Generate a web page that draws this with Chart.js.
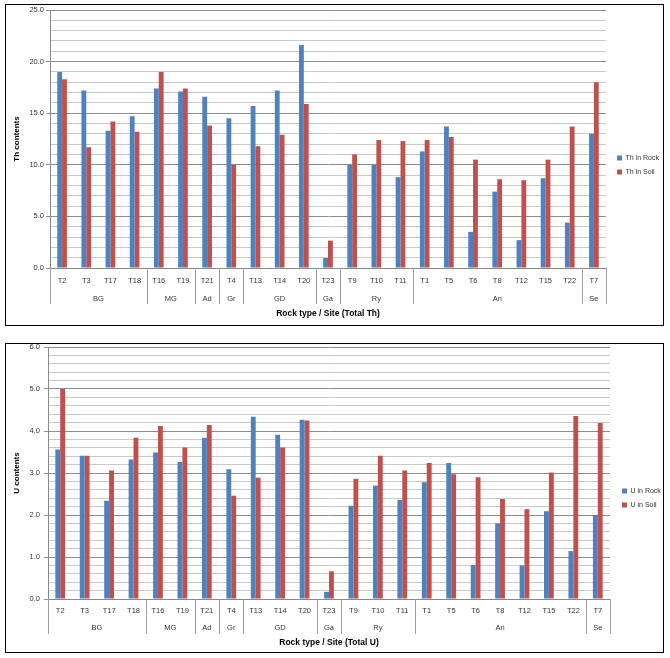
<!DOCTYPE html>
<html><head><meta charset="utf-8">
<script src="https://cdn.jsdelivr.net/npm/chart.js@4.4.1/dist/chart.umd.min.js"></script>
<style>
html,body{margin:0;padding:0;background:#fff}
body{width:670px;height:658px;position:relative;overflow:hidden}
.box{position:absolute;border:1px solid #000;box-sizing:border-box;background:#fff}
.box canvas{display:block}
</style></head><body>
<div class="box" style="left:5px;top:4px;width:659px;height:322px"><canvas id="c1" width="657" height="320"></canvas></div>
<div class="box" style="left:5px;top:343px;width:659px;height:310px"><canvas id="c2" width="657" height="308"></canvas></div>
<script>
const sites = ['T2','T3','T17','T18','T16','T19','T21','T4','T13','T14','T20','T23','T9','T10','T11','T1','T5','T6','T8','T12','T15','T22','T7'];
const groupNames = ['BG','MG','Ad','Gr','GD','Ga','Ry','An','Se'];
const groupSizes = [4,2,1,1,3,1,3,7,1];
const thRock = [19.0,17.2,13.3,14.7,17.4,17.1,16.6,14.5,15.7,17.2,21.6,0.97,10.0,10.0,8.8,11.3,13.7,3.5,7.4,2.7,8.7,4.4,13.0];
const thSoil = [18.3,11.7,14.2,13.2,19.0,17.4,13.8,10.0,11.8,12.9,15.9,2.65,11.0,12.4,12.3,12.4,12.7,10.5,8.6,8.5,10.5,13.7,18.0];
const uRock = [3.56,3.41,2.34,3.32,3.49,3.26,3.84,3.09,4.34,3.91,4.27,0.17,2.22,2.70,2.36,2.78,3.24,0.81,1.80,0.80,2.09,1.14,2.00];
const uSoil = [5.00,3.41,3.06,3.84,4.12,3.61,4.14,2.46,2.89,3.61,4.25,0.66,2.86,3.41,3.06,3.24,2.97,2.90,2.38,2.14,3.01,4.36,4.19];
const thTicks = [0,25,1,5];   // min, max, minor step, labelled step
const uTicks = [0,6,0.2,1];

const FONT = "'Liberation Sans', Arial, sans-serif";
const BLUE = '#4F81BD', RED = '#C0504D';

const groupPlugin = {
  id: 'groups',
  afterLayout(chart) {
    const o = chart.options.plugins.groups;
    if (chart.legend && o.legShift) { chart.legend.left += o.legShift; chart.legend.right += o.legShift; }
  },
  afterDraw(chart) {
    const o = chart.options.plugins.groups;
    const x = chart.scales.x, ca = chart.chartArea, ctx = chart.ctx;
    const n = sites.length;
    const edge = i => i <= 0 ? ca.left : (i >= n ? ca.right : (x.getPixelForValue(i - 1) + x.getPixelForValue(i)) / 2);
    ctx.save();
    ctx.strokeStyle = '#a0a0a0'; ctx.lineWidth = 1;
    ctx.fillStyle = '#333';
    ctx.font = '7.5px ' + FONT;
    ctx.textAlign = 'center'; ctx.textBaseline = 'middle';
    let idx = 0;
    groupNames.forEach((g, k) => {
      const l = edge(idx), r = edge(idx + groupSizes[k]);
      const lines = k === groupNames.length - 1 ? [l, r] : [l];
      lines.forEach(px => {
        const xx = Math.round(px) + 0.5;
        ctx.beginPath(); ctx.moveTo(xx, ca.bottom); ctx.lineTo(xx, ca.bottom + o.lineLen); ctx.stroke();
      });
      ctx.fillText(g, (l + r) / 2, ca.bottom + o.labelY);
      idx += groupSizes[k];
    });
    ctx.restore();
  }
};

function isMajor(v, step) { return Math.abs(v / step - Math.round(v / step)) < 1e-6; }

function makeChart(id, rock, soil, names, tk, yTitle, xTitle, cfg) {
  return new Chart(document.getElementById(id), {
    type: 'bar',
    data: {
      labels: sites,
      datasets: [
        { label: names[0], data: rock, backgroundColor: BLUE, barPercentage: 1, categoryPercentage: 0.4 },
        { label: names[1], data: soil, backgroundColor: RED, barPercentage: 1, categoryPercentage: 0.4 }
      ]
    },
    options: {
      responsive: false, animation: false,
      layout: { padding: cfg.pad },
      plugins: {
        tooltip: { enabled: false },
        groups: { lineLen: cfg.lineLen, labelY: cfg.labelY, legShift: cfg.legShift },
        legend: {
          position: 'right', maxWidth: cfg.legW,
          labels: { boxWidth: 5, boxHeight: 5, padding: 7, color: '#333', font: { family: FONT, size: 7 } }
        }
      },
      scales: {
        x: {
          grid: { display: false, drawTicks: false },
          border: { display: true, color: '#888' },
          ticks: { autoSkip: false, maxRotation: 0, padding: cfg.xTickPad, color: '#333', font: { family: FONT, size: 7.5 } },
          title: { display: true, text: xTitle, color: '#000', padding: { top: 0, bottom: 1 }, font: { family: FONT, size: 8.5, weight: 'bold' } },
          afterFit(s) { s.height = cfg.xH; s.paddingLeft = 0; s.paddingRight = 0; }
        },
        y: {
          min: tk[0], max: tk[1],
          grid: {
            color: c => isMajor(c.tick.value, tk[3]) ? '#8c8c8c' : '#c8c8c8',
            tickColor: c => isMajor(c.tick.value, tk[3]) ? '#8c8c8c' : 'rgba(0,0,0,0)',
            tickLength: 4
          },
          border: { display: true, color: '#888' },
          ticks: {
            stepSize: tk[2], autoSkip: false, padding: cfg.yTickPad, color: '#333',
            font: { family: FONT, size: 7.5 },
            callback: v => isMajor(v, tk[3]) ? Number(v).toFixed(1) : ''
          },
          title: { display: true, text: yTitle, color: '#000', padding: 0, font: { family: FONT, size: 8, weight: 'bold' } },
          afterFit(s) { s.width = cfg.yW; s.paddingTop = 0; s.paddingBottom = 0; }
        }
      }
    },
    plugins: [groupPlugin]
  });
}

makeChart('c1', thRock, thSoil, ['Th in Rock', 'Th in Soil'], thTicks, 'Th contents', 'Rock type / Site (Total Th)',
  { pad: { left: 6, top: 5, right: 0, bottom: 5 }, xH: 52, yW: 38, xTickPad: 8, yTickPad: 2, lineLen: 36, labelY: 31, legW: 57, legShift: 4 });
makeChart('c2', uRock, uSoil, ['U in Rock', 'U in Soil'], uTicks, 'U contents', 'Rock type / Site (Total U)',
  { pad: { left: 6, top: 3, right: 0, bottom: 3 }, xH: 50, yW: 36, xTickPad: 7, yTickPad: 4, lineLen: 35, labelY: 29, legW: 53, legShift: 5 });
</script>
</body></html>
